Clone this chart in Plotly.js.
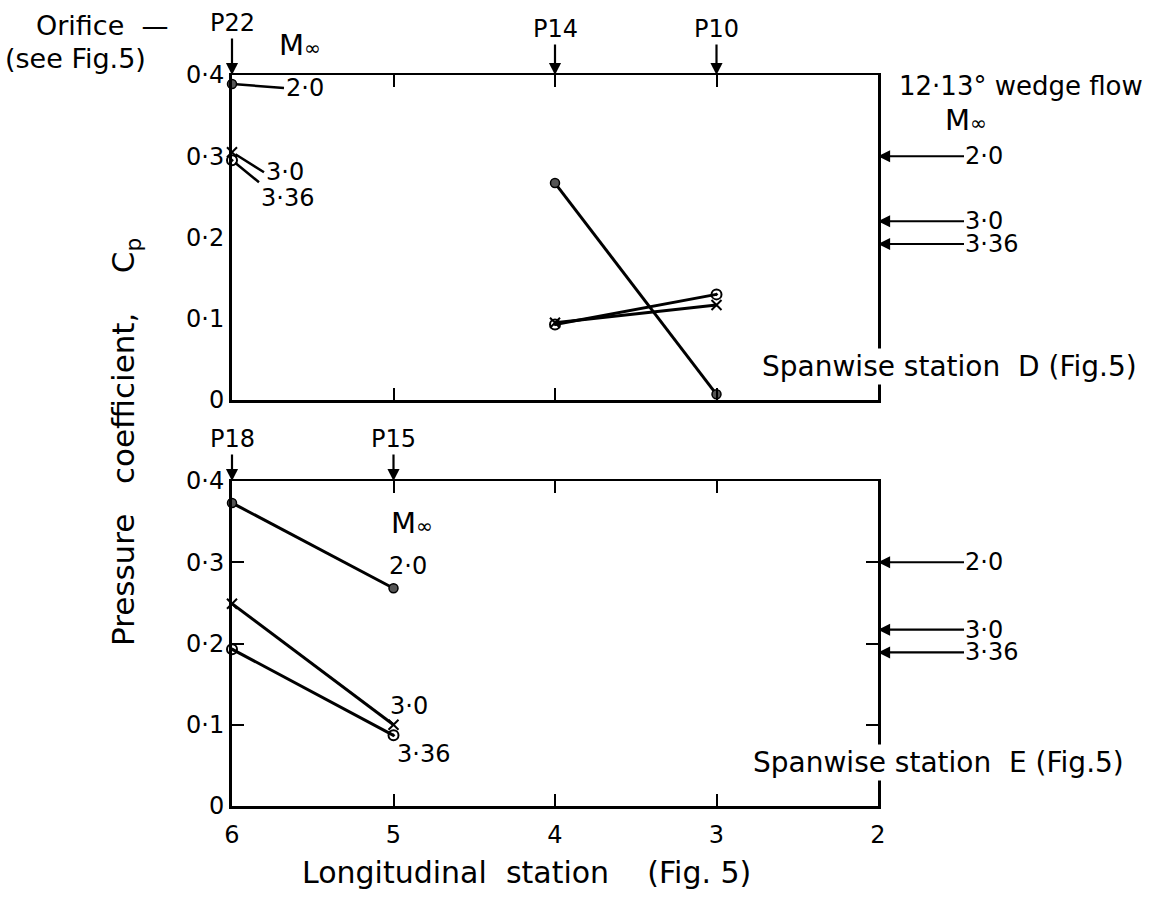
<!DOCTYPE html>
<html>
<head>
<meta charset="utf-8">
<script src="https://cdn.plot.ly/plotly-3.0.1.min.js"></script>
<style>html,body{margin:0;padding:0;background:#fff;}#chart{width:1149px;height:911px;}</style>
</head>
<body>
<div id="chart"></div>
<script>
// ---- data ----
const stations = [6, 5, 4, 3];
const topM20  = [0.389, null, 0.267, 0.007];
const topM30  = [0.305, null, 0.095, 0.117];
const topM336 = [0.295, null, 0.093, 0.130];

const botStations = [6, 5];
const botM20  = [0.373, 0.268];
const botM30  = [0.249, 0.100];
const botM336 = [0.193, 0.087];

const wedgeMach  = ['2·0', '3·0', '3·36'];
const wedgeCpTop = [0.300, 0.220, 0.192];
const wedgeCpBot = [0.300, 0.217, 0.189];

const orificeTopNames = ['P22', 'P14', 'P10'];
const orificeTopX     = [6, 4, 3];
const orificeBotNames = ['P18', 'P15'];
const orificeBotX     = [6, 5];

const yTickVals = [0, 0.1, 0.2, 0.3, 0.4];
const yTickText = ['0', '0·1', '0·2', '0·3', '0·4'];
const xTickVals = [6, 5, 4, 3, 2];
const xTickText = ['6', '5', '4', '3', '2'];

// ---- styling ----
const FONT = 'DejaVu Sans, Liberation Sans, sans-serif';
const W = 1149, H = 911;
const px = v => v / W;
const py = v => 1 - v / H;
const NB = n => '\u00A0'.repeat(n);

const mk20  = {symbol: 'circle', size: 9, color: '#555', line: {color: '#000', width: 1.5}};
const mk30  = {symbol: 'x-thin', size: 10, color: '#000', line: {color: '#000', width: 2}};
const mk336 = {symbol: 'circle-open-dot', size: 10, color: '#000', line: {color: '#000', width: 2}};
const ln = {color: '#000', width: 3};

function tr(x, y, mk, xa, ya) {
  return {x: x, y: y, xaxis: xa, yaxis: ya, type: 'scatter', mode: 'lines+markers',
          line: ln, marker: mk, connectgaps: false, cliponaxis: false, hoverinfo: 'skip', showlegend: false};
}

const data = [
  tr(stations, topM20, mk20, 'x', 'y'),
  tr(stations, topM30, mk30, 'x', 'y'),
  tr(stations, topM336, mk336, 'x', 'y'),
  tr(botStations, botM20, mk20, 'x2', 'y2'),
  tr(botStations, botM30, mk30, 'x2', 'y2'),
  tr(botStations, botM336, mk336, 'x2', 'y2')
];

const ann = [];
const f = (s) => ({family: FONT, size: s, color: '#000'});
const minf = 'M<span style="font-size:20px">∞</span>';
const arrowBase = {showarrow: true, arrowhead: 2, arrowsize: 1.1, arrowwidth: 2.2, arrowcolor: '#000'};

// orifice arrows
orificeTopX.forEach((xv, i) => {
  ann.push(Object.assign({xref: 'x', yref: 'y', x: xv, y: 0.4, text: orificeTopNames[i],
            ax: 0, ay: (i === 0 ? -52 : -46), font: f(24)}, arrowBase));
});
orificeBotX.forEach((xv, i) => {
  ann.push(Object.assign({xref: 'x2', yref: 'y2', x: xv, y: 0.4, text: orificeBotNames[i],
            ax: 0, ay: -42, font: f(24)}, arrowBase));
});

// wedge flow arrows on right
wedgeMach.forEach((m, i) => {
  ann.push(Object.assign({xref: 'x', yref: 'y', x: 2, y: wedgeCpTop[i], text: m, ax: 86, ay: 0,
            xanchor: 'left', yanchor: 'middle', borderpad: 0, font: f(24)}, arrowBase));
  ann.push(Object.assign({xref: 'x2', yref: 'y2', x: 2, y: wedgeCpBot[i], text: m, ax: 86, ay: 0,
            xanchor: 'left', yanchor: 'middle', borderpad: 0, font: f(24)}, arrowBase));
});

// leader lines at station 6 (top)
const lead = {showarrow: true, arrowhead: 0, arrowwidth: 2.5, arrowcolor: '#000', standoff: 4};
ann.push(Object.assign({xref: 'x', yref: 'y', x: 6, y: topM20[0], text: wedgeMach[0],
          ax: 52, ay: 4, xanchor: 'left', yanchor: 'middle', font: f(24)}, lead));
ann.push(Object.assign({xref: 'x', yref: 'y', x: 6, y: topM30[0], text: wedgeMach[1],
          ax: 32, ay: 20, xanchor: 'left', yanchor: 'middle', font: f(24)}, lead));
ann.push(Object.assign({xref: 'x', yref: 'y', x: 6, y: topM336[0], text: wedgeMach[2],
          ax: 27, ay: 22, xanchor: 'left', yanchor: 'top', font: f(24)}, lead));

// texts
const txt = (x, y, t, s, extra) => ann.push(Object.assign({xref: 'paper', yref: 'paper', x: px(x), y: py(y),
                                        xanchor: 'center', yanchor: 'middle',
                                        text: t, showarrow: false, font: f(s)}, extra || {}));
// bottom labels near station 5
txt(408, 566, wedgeMach[0], 24);
txt(409, 706, wedgeMach[1], 24);
txt(424, 754, wedgeMach[2], 24);

txt(34, 26, 'Orifice' + NB(2) + '—', 27, {xanchor: 'left'});
txt(3, 58, '(see Fig.5)', 27, {xanchor: 'left'});
txt(300, 45, minf, 29);
txt(412, 523, minf, 29);
txt(1021, 86, '12·13° wedge flow', 26);
txt(966, 120, minf, 29);
txt(950, 367, 'Spanwise' + NB(1) + 'station' + NB(2) + 'D' + NB(1) + '(Fig.5)', 28, {bgcolor: '#fff'});
txt(938, 762, 'Spanwise' + NB(1) + 'station' + NB(2) + 'E' + NB(1) + '(Fig.5)', 28, {bgcolor: '#fff'});
txt(526, 872, 'Longitudinal' + NB(2) + 'station' + NB(4) + '(Fig.' + NB(1) + '5)', 30);
txt(125, 442, 'Pressure' + NB(3) + 'coefficient,' + NB(4) + 'C<sub>p</sub>', 31, {textangle: -90});

const axCommon = {showline: true, linecolor: '#000', linewidth: 2.5, mirror: 'ticks', ticks: 'inside',
                  ticklen: 12, tickwidth: 2, tickcolor: '#000', showgrid: false, zeroline: false,
                  tickfont: f(24), fixedrange: true};

const layout = {
  width: W, height: H,
  margin: {l: 0, r: 0, t: 0, b: 0},
  paper_bgcolor: '#fff', plot_bgcolor: '#fff',
  showlegend: false,
  xaxis: Object.assign({}, axCommon, {domain: [px(232), px(878)], range: [6, 2], anchor: 'y',
          tickvals: [5, 4, 3], showticklabels: false}),
  yaxis: Object.assign({}, axCommon, {domain: [py(400), py(75)], range: [0, 0.4], anchor: 'x',
          tickvals: yTickVals, ticktext: yTickText, ticks: '', mirror: true, linewidth: 3}),
  yaxis3: {overlaying: 'y', side: 'right', anchor: 'x', range: [0, 0.4], tickvals: [0.1, 0.2, 0.3],
           ticks: 'inside', ticklen: 12, tickwidth: 2, tickcolor: '#000', showticklabels: false,
           showline: false, showgrid: false, zeroline: false, fixedrange: true},
  xaxis2: Object.assign({}, axCommon, {domain: [px(232), px(878)], range: [6, 2], anchor: 'y2',
          tickvals: xTickVals, ticktext: xTickText, ticklabelstandoff: 6}),
  yaxis2: Object.assign({}, axCommon, {domain: [py(806), py(481)], range: [0, 0.4], anchor: 'x2',
          tickvals: yTickVals, ticktext: yTickText, linewidth: 3}),
  annotations: ann
};

Plotly.newPlot('chart', data, layout, {displayModeBar: false, staticPlot: true});
</script>
</body>
</html>
